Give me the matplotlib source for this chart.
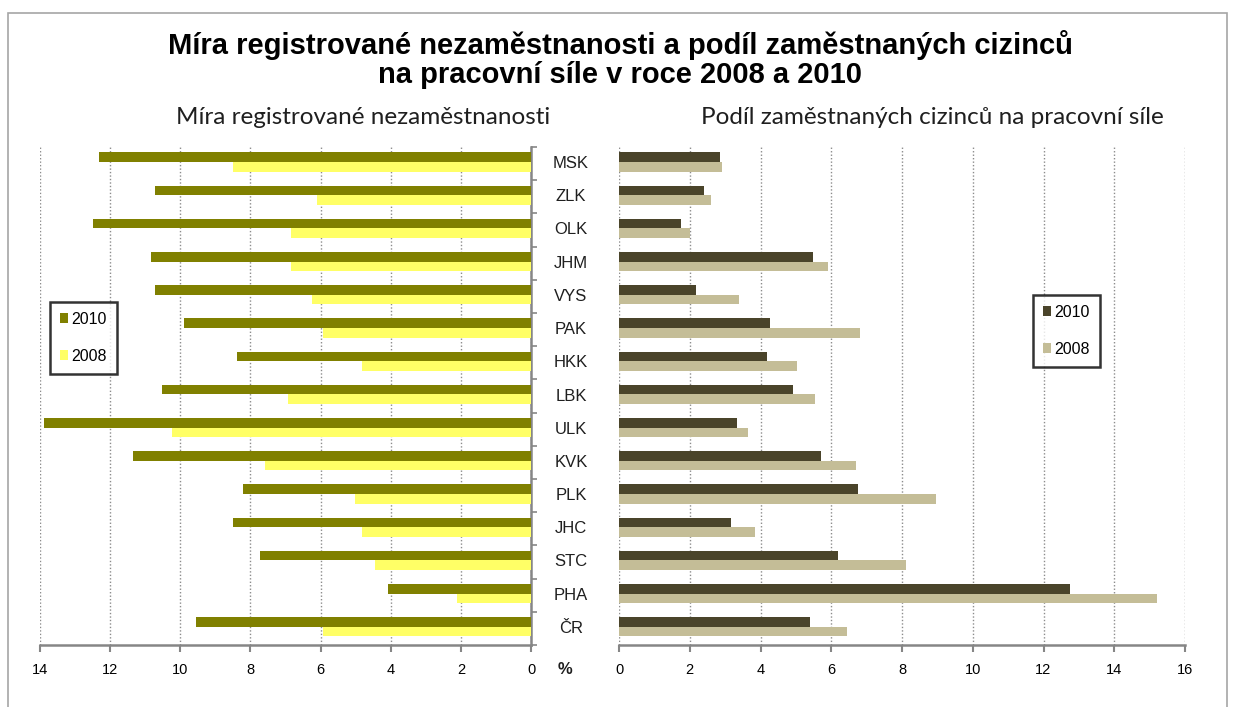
import numpy as np
import matplotlib
matplotlib.use("Agg")
import matplotlib.pyplot as plt
import matplotlib.transforms as mtransforms
from matplotlib.patches import Patch, Rectangle

plt.rcParams['font.family'] = ['Liberation Sans', 'DejaVu Sans']

# Data (top to bottom)
regions = ["MSK", "ZLK", "OLK", "JHM", "VYS", "PAK", "HKK", "LBK",
           "ULK", "KVK", "PLK", "JHC", "STC", "PHA", "ČR"]
unemp_2010 = [12.31, 10.71, 12.49, 10.83, 10.71, 9.88, 8.38, 10.51,
              13.88, 11.36, 8.22, 8.49, 7.74, 4.07, 9.55]
unemp_2008 = [8.50, 6.10, 6.84, 6.84, 6.24, 5.93, 4.81, 6.94,
              10.24, 7.58, 5.03, 4.81, 4.44, 2.10, 5.94]
foreign_2010 = [2.86, 2.40, 1.76, 5.49, 2.19, 4.28, 4.19, 4.92,
                3.34, 5.71, 6.75, 3.18, 6.18, 12.74, 5.39]
foreign_2008 = [2.92, 2.60, 2.01, 5.92, 3.40, 6.81, 5.02, 5.55,
                3.66, 6.70, 8.96, 3.85, 8.11, 15.21, 6.44]
years = ["2010", "2008"]

left_colors = ["#808000", "#FFFF66"]
right_colors = ["#4A442A", "#C4BD97"]

W, H = 1233, 707
fig = plt.figure(figsize=(W / 100, H / 100), dpi=100)
fig.patch.set_facecolor("white")


def px_box(x0, y0, x1, y1):
    return [x0 / W, 1 - y1 / H, (x1 - x0) / W, (y1 - y0) / H]


# outer border
fig.add_artist(Rectangle((8 / W, -0.02), (1227 - 8) / W, 1.02 - 13 / H,
                         transform=fig.transFigure, fill=False,
                         edgecolor="#A6A6A6", linewidth=1.2))

ax_l = fig.add_axes(px_box(40, 147, 531, 645))
ax_r = fig.add_axes(px_box(619, 147, 1185, 645))

y = np.arange(len(regions))
bh = 0.29
grey = "#868686"

for ax, v10, v08, cols, xmax in [(ax_l, unemp_2010, unemp_2008, left_colors, 14),
                                  (ax_r, foreign_2010, foreign_2008, right_colors, 16)]:
    ax.barh(y - bh / 2 - 0.05, v10, height=bh, color=cols[0], zorder=3)
    ax.barh(y + bh / 2 - 0.05, v08, height=bh, color=cols[1], zorder=3)
    ax.set_ylim(len(regions) - 0.5, -0.5)
    ax.set_xticks(np.arange(0, xmax + 1, 2))
    ax.grid(axis="x", linestyle=(0, (1, 1.5)), color="#8C8C8C", linewidth=1.0, zorder=0)
    for s in ["top", "left", "right"]:
        ax.spines[s].set_visible(False)
    ax.spines["bottom"].set_color(grey)
    ax.spines["bottom"].set_linewidth(1.8)
    ax.tick_params(axis="x", direction="out", length=5, width=1.5, color=grey,
                   labelsize=10.5, pad=8, labelcolor="#000000")
    ax.set_yticks([])

ax_l.set_xlim(14, 0)
ax_r.set_xlim(0, 16)

# vertical axis of the left chart at 0 with ticks between categories
ax_l.spines["right"].set_visible(True)
ax_l.spines["right"].set_color(grey)
ax_l.spines["right"].set_linewidth(1.8)
ax_l.yaxis.tick_right()
ax_l.set_yticks(np.arange(-0.5, len(regions), 1.0))
ax_l.set_yticklabels([])
ax_l.tick_params(axis="y", direction="out", length=4, width=1.2, color=grey)

# category labels between the two charts
trans = mtransforms.blended_transform_factory(fig.transFigure, ax_l.transData)
for i, lab in enumerate(regions):
    fig.text(571 / W, i, lab, transform=trans, ha="center", va="center",
             fontsize=12, color="#1F1F1F")
fig.text(565 / W, 1 - 669 / H, "%", ha="center", va="center", fontsize=12,
         fontweight="bold", color="#1F1F1F")

# titles
fig.text(620 / W, 1 - 45 / H, "Míra registrované nezaměstnanosti a podíl zaměstnaných cizinců",
         ha="center", va="center", fontsize=21, fontweight="bold")
fig.text(620 / W, 1 - 75 / H, "na pracovní síle v roce 2008 a 2010",
         ha="center", va="center", fontsize=21, fontweight="bold")
sub_font = ["Lato", "DejaVu Sans"]
fig.text(363 / W, 1 - 118 / H, "Míra registrované nezaměstnanosti",
         ha="center", va="center", fontsize=17.5, family=sub_font, color="#1F1F1F")
fig.text(932 / W, 1 - 118 / H, "Podíl zaměstnaných cizinců na pracovní síle",
         ha="center", va="center", fontsize=17.5, family=sub_font, color="#1F1F1F")

# legends
for ax, cols, pos in [(ax_l, left_colors, (50, 302)), (ax_r, right_colors, (1033, 295))]:
    handles = [Patch(facecolor=c, edgecolor="none", label=yr) for c, yr in zip(cols, years)]
    leg = fig.legend(handles=handles, loc="upper left",
                     bbox_to_anchor=(pos[0] / W, 1 - pos[1] / H),
                     fontsize=11.5, frameon=True, fancybox=False, handlelength=0.55,
                     handleheight=0.55, handletextpad=0.2, labelspacing=1.4,
                     borderpad=0.6, borderaxespad=0)
    leg.get_frame().set_edgecolor("black")
    leg.get_frame().set_linewidth(1.8)

fig.savefig("out.png", dpi=100)
